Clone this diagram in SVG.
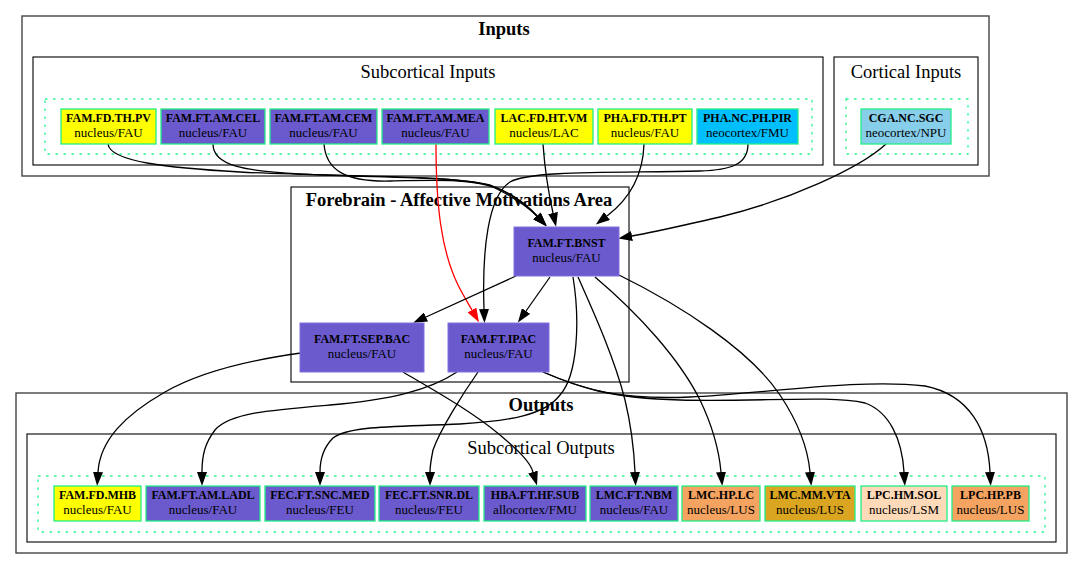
<svg xmlns="http://www.w3.org/2000/svg" width="1083" height="569" viewBox="0 0 1083 569">
<style>
.bg{fill:#fff}
.outer{fill:none;stroke:#444;stroke-width:1.4}
.inner{fill:none;stroke:#000;stroke-width:1.1}
.dot{fill:none;stroke:#2af592;stroke-width:1.3;stroke-dasharray:2.5,5.5}
.nb{stroke:#22ee88;stroke-width:1.3}
.fb{stroke:#8070e0;stroke-width:1}
.yellow{fill:#ffff00}
.sb{fill:#6a5acd}
.dsb{fill:#00bfff}
.skb{fill:#87ceeb}
.sandy{fill:#f4a460}
.gold{fill:#daa520}
.peach{fill:#ffdab9}
text{font-family:"Liberation Serif","Times New Roman",serif;fill:#000;text-anchor:middle}
.b{font-weight:bold;font-size:12px}
.r{font-size:13px}
.ct{font-size:18.5px}
.ctb{font-size:18.5px;font-weight:bold}
.e{fill:none;stroke:#000;stroke-width:1.3;marker-end:url(#ah)}
.er{fill:none;stroke:#ff0000;stroke-width:1.3;marker-end:url(#ahr)}
</style>
<defs>
<marker id="ah" markerWidth="14" markerHeight="10" refX="0" refY="5" orient="auto" markerUnits="userSpaceOnUse"><path d="M0,0 L14,5 L0,10 z" fill="#000"/></marker>
<marker id="ahr" markerWidth="14" markerHeight="10" refX="0" refY="5" orient="auto" markerUnits="userSpaceOnUse"><path d="M0,0 L14,5 L0,10 z" fill="#ff0000"/></marker>
</defs>
<rect class="bg" x="0" y="0" width="1083" height="569"/>

<g id="clusters">
<rect class="outer" x="22" y="16" width="967" height="160"/>
<text class="ctb" x="504" y="35">Inputs</text>
<rect class="inner" x="33" y="57" width="790" height="108"/>
<text class="ct" x="428" y="78">Subcortical Inputs</text>
<rect class="dot" x="45" y="99" width="767" height="55"/>
<rect class="inner" x="834" y="57" width="144" height="108"/>
<text class="ct" x="906" y="78">Cortical Inputs</text>
<rect class="dot" x="846" y="99" width="122" height="55"/>

<rect class="inner" x="291" y="187" width="338" height="195"/>
<text class="ctb" x="459" y="206">Forebrain - Affective Motivations Area</text>

<rect class="outer" x="16" y="393" width="1051" height="160"/>
<text class="ctb" x="541" y="411">Outputs</text>
<rect class="inner" x="27" y="434" width="1029" height="108"/>
<text class="ct" x="541" y="454">Subcortical Outputs</text>
<rect class="dot" x="38" y="476" width="1007" height="56"/>
</g>

<g id="edges">
<path class="e" d="M108,144 C110,162 170,168 240,172 C330,177 440,174 490,185 C510,192 527,205 537,216"/>
<path class="e" d="M213,144 C213,166 245,171 300,174 C380,178 460,176 492,186 C512,194 527,205 537,216"/>
<path class="e" d="M324,144 C326,170 345,182 390,181 C440,180 475,179 495,188 C513,197 527,206 537,216"/>
<path class="e" d="M543,144 C545,172 549,195 553,213"/>
<path class="e" d="M644,144 C643,178 628,200 607,216"/>
<path class="e" d="M886,144 C860,168 790,200 720,217 C680,226 655,232 632,236"/>
<path class="e" d="M748,144 C748,165 730,170 700,171 C620,173 530,170 510,182 C488,196 482,250 484,309"/>
<path class="er" d="M436,144 C436,205 441,250 458,285 C463,295 468,303 472,310"/>
<path class="e" d="M516,276 L426,317"/>
<path class="e" d="M550,277 L526,311"/>
<path class="e" d="M573,277 C580,320 578,375 560,395 C545,415 510,421 460,424 C400,427 350,425 333,438 C323,448 320,460 320,472"/>
<path class="e" d="M578,277 C595,315 615,360 625,400 C631,425 634,450 635,472"/>
<path class="e" d="M595,277 C640,315 680,360 700,400 C712,425 719,450 721,472"/>
<path class="e" d="M619,275 C680,305 750,350 780,395 C800,425 808,450 810,472"/>
<path class="e" d="M301,353 C250,360 200,372 165,392 C125,415 100,440 98,472"/>
<path class="e" d="M403,372 C430,388 470,410 500,435 C520,452 530,462 533,472"/>
<path class="e" d="M457,372 C430,390 390,400 330,405 C270,410 230,413 215,430 C205,443 202,455 202,472"/>
<path class="e" d="M478,372 C462,395 440,430 433,450 C431,460 430,465 430,472"/>
<path class="e" d="M543,372 C580,388 610,398 680,400 C760,402 830,395 865,403 C890,412 902,440 904,472"/>
<path class="e" d="M543,372 C585,390 620,400 690,397 C760,394 860,378 925,386 C970,395 988,430 990,472"/>
</g>

<g id="FAM.FD.TH.PV"><rect class="yellow nb" x="61" y="109" width="95" height="35"/><text class="b" x="108.5" y="121.5">FAM.FD.TH.PV</text><text class="r" x="108.5" y="136.5">nucleus/FAU</text></g>
<g id="FAM.FT.AM.CEL"><rect class="sb nb" x="161" y="109" width="104" height="35"/><text class="b" x="213" y="121.5">FAM.FT.AM.CEL</text><text class="r" x="213" y="136.5">nucleus/FAU</text></g>
<g id="FAM.FT.AM.CEM"><rect class="sb nb" x="270" y="109" width="107" height="35"/><text class="b" x="323.5" y="121.5">FAM.FT.AM.CEM</text><text class="r" x="323.5" y="136.5">nucleus/FAU</text></g>
<g id="FAM.FT.AM.MEA"><rect class="sb nb" x="382" y="109" width="107" height="35"/><text class="b" x="435.5" y="121.5">FAM.FT.AM.MEA</text><text class="r" x="435.5" y="136.5">nucleus/FAU</text></g>
<g id="LAC.FD.HT.VM"><rect class="yellow nb" x="495" y="109" width="98" height="35"/><text class="b" x="544" y="121.5">LAC.FD.HT.VM</text><text class="r" x="544" y="136.5">nucleus/LAC</text></g>
<g id="PHA.FD.TH.PT"><rect class="yellow nb" x="598" y="109" width="94" height="35"/><text class="b" x="645" y="121.5">PHA.FD.TH.PT</text><text class="r" x="645" y="136.5">nucleus/FAU</text></g>
<g id="PHA.NC.PH.PIR"><rect class="dsb nb" x="697" y="109" width="101" height="35"/><text class="b" x="747.5" y="121.5">PHA.NC.PH.PIR</text><text class="r" x="747.5" y="136.5">neocortex/FMU</text></g>
<g id="CGA.NC.SGC"><rect class="skb nb" x="861" y="109" width="90" height="35"/><text class="b" x="906" y="121.5">CGA.NC.SGC</text><text class="r" x="906" y="136.5">neocortex/NPU</text></g>

<g id="FAM.FT.BNST"><rect class="sb fb" x="514" y="227" width="105" height="49"/><text class="b" x="566.5" y="247">FAM.FT.BNST</text><text class="r" x="566.5" y="262">nucleus/FAU</text></g>
<g id="FAM.FT.SEP.BAC"><rect class="sb fb" x="300" y="323" width="124" height="49"/><text class="b" x="362" y="343">FAM.FT.SEP.BAC</text><text class="r" x="362" y="358">nucleus/FAU</text></g>
<g id="FAM.FT.IPAC"><rect class="sb fb" x="448" y="323" width="101" height="49"/><text class="b" x="498.5" y="343">FAM.FT.IPAC</text><text class="r" x="498.5" y="358">nucleus/FAU</text></g>

<g id="FAM.FD.MHB"><rect class="yellow nb" x="54" y="486" width="87" height="35"/><text class="b" x="97.5" y="498.5">FAM.FD.MHB</text><text class="r" x="97.5" y="513.5">nucleus/FAU</text></g>
<g id="FAM.FT.AM.LADL"><rect class="sb nb" x="146" y="486" width="114" height="35"/><text class="b" x="203" y="498.5">FAM.FT.AM.LADL</text><text class="r" x="203" y="513.5">nucleus/FAU</text></g>
<g id="FEC.FT.SNC.MED"><rect class="sb nb" x="265" y="486" width="110" height="35"/><text class="b" x="320" y="498.5">FEC.FT.SNC.MED</text><text class="r" x="320" y="513.5">nucleus/FEU</text></g>
<g id="FEC.FT.SNR.DL"><rect class="sb nb" x="379" y="486" width="100" height="35"/><text class="b" x="429" y="498.5">FEC.FT.SNR.DL</text><text class="r" x="429" y="513.5">nucleus/FEU</text></g>
<g id="HBA.FT.HF.SUB"><rect class="sb nb" x="484" y="486" width="102" height="35"/><text class="b" x="535" y="498.5">HBA.FT.HF.SUB</text><text class="r" x="535" y="513.5">allocortex/FMU</text></g>
<g id="LMC.FT.NBM"><rect class="sb nb" x="590" y="486" width="88" height="35"/><text class="b" x="634" y="498.5">LMC.FT.NBM</text><text class="r" x="634" y="513.5">nucleus/FAU</text></g>
<g id="LMC.HP.LC"><rect class="sandy nb" x="682" y="486" width="78" height="35"/><text class="b" x="721" y="498.5">LMC.HP.LC</text><text class="r" x="721" y="513.5">nucleus/LUS</text></g>
<g id="LMC.MM.VTA"><rect class="gold nb" x="765" y="486" width="90" height="35"/><text class="b" x="810" y="498.5">LMC.MM.VTA</text><text class="r" x="810" y="513.5">nucleus/LUS</text></g>
<g id="LPC.HM.SOL"><rect class="peach nb" x="861" y="486" width="86" height="35"/><text class="b" x="904" y="498.5">LPC.HM.SOL</text><text class="r" x="904" y="513.5">nucleus/LSM</text></g>
<g id="LPC.HP.PB"><rect class="sandy nb" x="952" y="486" width="77" height="35"/><text class="b" x="990.5" y="498.5">LPC.HP.PB</text><text class="r" x="990.5" y="513.5">nucleus/LUS</text></g>
</svg>
